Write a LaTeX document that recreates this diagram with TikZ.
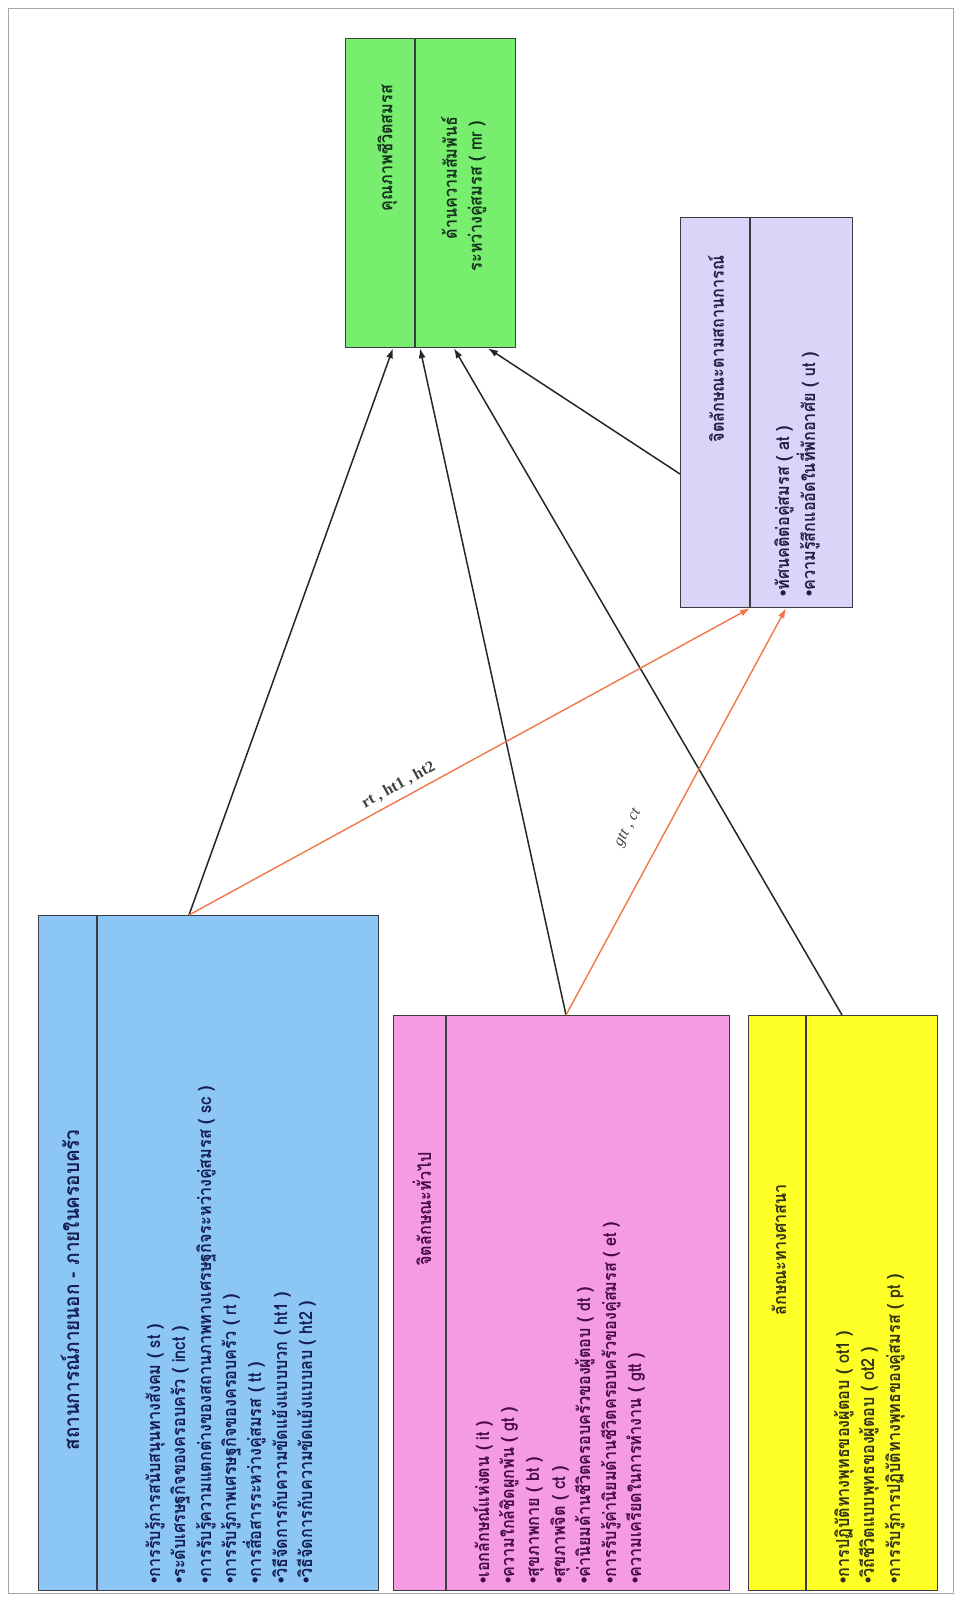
\documentclass[tikz,border=0pt]{standalone}
\usepackage{fontspec}
\usetikzlibrary{arrows.meta}
\newfontfamily\thai[Script=Thai,FakeStretch=0.9]{Loma}
\newfontfamily\bulfont{Liberation Sans}
\newfontfamily\labfont{Liberation Serif}
\newcommand\bul{{\bulfont\bfseries •}}
\definecolor{blueF}{RGB}{140,198,245}
\definecolor{pinkF}{RGB}{245,155,228}
\definecolor{yellowF}{RGB}{255,255,40}
\definecolor{greenF}{RGB}{120,238,110}
\definecolor{purpleF}{RGB}{218,212,248}
\definecolor{edgeC}{RGB}{60,60,70}
\definecolor{orangeC}{RGB}{240,120,70}
\definecolor{blueT}{RGB}{20,30,80}
\definecolor{pinkT}{RGB}{70,10,70}
\definecolor{yellowT}{RGB}{50,50,20}
\definecolor{greenT}{RGB}{20,50,30}
\definecolor{purpleT}{RGB}{30,30,70}
\tikzset{
  box/.style={draw=edgeC, line width=1.2pt, inner sep=0pt, anchor=north west},
  divider/.style={draw=edgeC, line width=1.2pt},
  th/.style={rotate=90, inner sep=0pt, font=\thai\bfseries\fontsize{18}{20}\selectfont},
  item/.style={th, anchor=base west},
  ttl/.style={th, anchor=center},
  blk/.style={draw=black!85, line width=1.5pt, -{Latex[length=10pt,width=7pt]}},
  org/.style={draw=orangeC, line width=1.4pt, -{Latex[length=10pt,width=7pt]}},
  lab/.style={font=\labfont\fontsize{16}{18}\selectfont, text=black!75, sloped, inner sep=1pt},
}
\begin{document}
\begin{tikzpicture}[x=1pt,y=-1pt]
\useasboundingbox (0,0) rectangle (959,1599);
\draw[black!35, line width=0.8pt] (8,8) rectangle (953,1593);

% boxes
\node[box, fill=blueF, minimum width=340pt, minimum height=675pt] (blue) at (38,915) {};
\node[box, fill=pinkF, minimum width=336pt, minimum height=575pt] (pink) at (393,1015) {};
\node[box, fill=yellowF, minimum width=189pt, minimum height=575pt] (yellow) at (748,1015) {};
\node[box, fill=greenF, minimum width=170pt, minimum height=309pt] (green) at (345,38) {};
\node[box, fill=purpleF, minimum width=172pt, minimum height=390pt] (purple) at (680,217) {};

\draw[divider] ([xshift=59pt]blue.north west) -- ([xshift=59pt]blue.south west);
\draw[divider] ([xshift=53pt]pink.north west) -- ([xshift=53pt]pink.south west);
\draw[divider] ([xshift=58pt]yellow.north west) -- ([xshift=58pt]yellow.south west);
\draw[divider] ([xshift=70pt]green.north west) -- ([xshift=70pt]green.south west);
\draw[divider] ([xshift=70pt]purple.north west) -- ([xshift=70pt]purple.south west);

% blue texts
\node[ttl, text=blueT, font=\thai\bfseries\fontsize{21}{22}\selectfont] (bt) at (70,1290) {สถานการณ์ภายนอก - ภายในครอบครัว};
\node[item, text=blueT] (b1) at (160,1584) {\bul การรับรู้การสนับสนุนทางสังคม ( st )};
\node[item, text=blueT] (b2) at (185,1584) {\bul ระดับเศรษฐกิจของครอบครัว ( inct )};
\node[item, text=blueT] (b3) at (211,1584) {\bul การรับรู้ความแตกต่างของสถานภาพทางเศรษฐกิจระหว่างคู่สมรส ( sc )};
\node[item, text=blueT] (b4) at (236,1584) {\bul การรับรู้ภาพเศรษฐกิจของครอบครัว ( rt )};
\node[item, text=blueT] (b5) at (261,1584) {\bul การสื่อสารระหว่างคู่สมรส ( tt )};
\node[item, text=blueT] (b6) at (287,1584) {\bul วิธีจัดการกับความขัดแย้งแบบบวก ( ht1 )};
\node[item, text=blueT] (b7) at (312,1584) {\bul วิธีจัดการกับความขัดแย้งแบบลบ ( ht2 )};

% pink texts
\node[ttl, text=pinkT] (pt) at (422,1209) {จิตลักษณะทั่วไป};
\node[item, text=pinkT] (p1) at (489,1584) {\bul เอกลักษณ์แห่งตน ( it )};
\node[item, text=pinkT] (p2) at (514,1584) {\bul ความใกล้ชิดผูกพัน ( gt )};
\node[item, text=pinkT] (p3) at (539,1584) {\bul สุขภาพกาย ( bt )};
\node[item, text=pinkT] (p4) at (565,1584) {\bul สุขภาพจิต ( ct )};
\node[item, text=pinkT] (p5) at (590,1584) {\bul ค่านิยมด้านชีวิตครอบครัวของผู้ตอบ ( dt )};
\node[item, text=pinkT] (p6) at (616,1584) {\bul การรับรู้ค่านิยมด้านชีวิตครอบครัวของคู่สมรส ( et )};
\node[item, text=pinkT] (p7) at (641,1584) {\bul ความเครียดในการทำงาน ( gtt )};

% yellow texts
\node[ttl, text=yellowT] (yt) at (779,1250) {ลักษณะทางศาสนา};
\node[item, text=yellowT] (y1) at (849,1584) {\bul การปฏิบัติทางพุทธของผู้ตอบ ( ot1 )};
\node[item, text=yellowT] (y2) at (874,1584) {\bul วิถีชีวิตแบบพุทธของผู้ตอบ ( ot2 )};
\node[item, text=yellowT] (y3) at (900,1584) {\bul การรับรู้การปฏิบัติทางพุทธของคู่สมรส ( pt )};

% green texts
\node[ttl, text=greenT] (gt) at (387,148) {คุณภาพชีวิตสมรส};
\node[ttl, text=greenT] (g1) at (449,178) {ด้านความสัมพันธ์};
\node[ttl, text=greenT] (g2) at (477,196) {ระหว่างคู่สมรส ( mr )};

% purple texts
\node[ttl, text=purpleT] (ut) at (716,349) {จิตลักษณะตามสถานการณ์};
\node[item, text=purpleT] (u1) at (789,597) {\bul ทัศนคติต่อคู่สมรส ( at )};
\node[item, text=purpleT] (u2) at (815,597) {\bul ความรู้สึกแออัดในที่พักอาศัย ( ut )};

% connectors
\coordinate (gA) at ([xshift=48pt]green.south west);
\coordinate (gB) at ([xshift=75pt]green.south west);
\coordinate (gC) at ([xshift=109pt]green.south west);
\coordinate (gD) at ([xshift=143pt]green.south west);
\coordinate (bS) at ([xshift=151pt]blue.north west);
\coordinate (pS) at ([xshift=173pt]pink.north west);
\coordinate (yS) at ([xshift=94pt]yellow.north west);
\coordinate (uS) at ([yshift=-257pt]purple.north west);
\coordinate (uA) at ([xshift=70pt]purple.south west);
\coordinate (uB) at ([xshift=106pt]purple.south west);

\draw[blk] (bS) -- (gA);
\draw[blk] (pS) -- (gB);
\draw[blk] (yS) -- (gC);
\draw[blk] (uS) -- (gD);
\draw[org] (bS) -- node[lab, pos=0.385, above=5pt] (l1) {\bfseries rt , ht1 , ht2} (uA);
\draw[org] (pS) -- node[lab, pos=0.42, above=26pt] (l2) {\itshape gtt , ct} (uB);
\end{tikzpicture}
\end{document}
